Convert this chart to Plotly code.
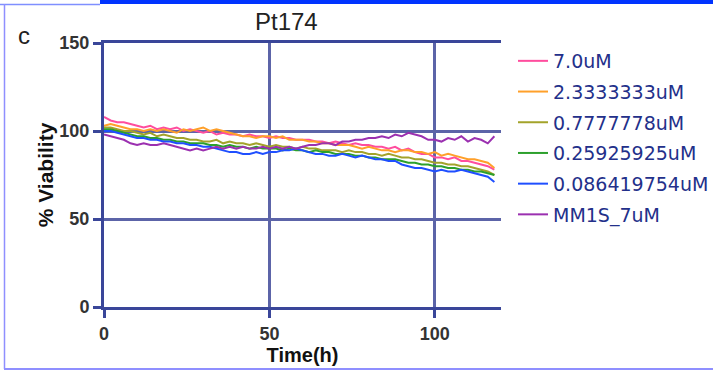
import plotly.graph_objects as go

time_h = list(range(0, 120, 2))

v_7_0 = [108,106,105,105,104,103,102,103,101,102,
         101,102,100,101,100,99,100,98,99,98,
         98,97,98,97,97,96,97,96,96,95,
         95,95,94,94,93,94,93,92,93,92,
         92,91,91,90,91,89,90,88,87,87,
         85,85,84,85,83,83,82,81,80,78]
v_2_33 = [103,104,103,102,101,101,100,101,100,101,
          100,99,101,100,101,102,100,101,100,99,
          98,97,97,96,97,97,96,97,95,95,
          95,94,94,93,93,92,92,92,91,90,
          91,90,89,89,88,89,89,88,88,87,
          88,86,87,86,85,84,84,83,82,79]
v_0_78 = [102,102,101,100,100,99,98,99,97,98,
          97,96,96,95,95,94,94,95,93,94,
          93,93,92,93,92,91,92,91,91,90,
          91,90,90,89,89,89,88,89,88,88,
          87,87,86,87,86,85,85,84,84,83,
          82,82,81,81,80,80,79,78,77,75]
v_0_26 = [101,101,100,99,98,97,97,96,96,95,
          95,94,94,93,93,93,92,92,91,92,
          91,91,90,91,90,90,90,89,90,89,
          89,88,89,88,88,87,87,87,86,86,
          85,85,84,84,84,83,82,82,81,81,
          80,80,79,79,78,78,77,77,76,75]
v_0_086 = [100,100,99,98,97,96,96,95,95,94,
           94,93,93,92,92,91,91,90,89,88,
           88,87,87,88,87,88,88,89,89,90,
           89,88,87,87,86,86,87,86,85,86,
           85,84,84,83,83,81,80,79,79,78,
           77,78,77,77,78,77,76,75,74,71]
v_mm1s = [98,97,96,95,93,92,93,92,92,93,
          92,91,90,89,90,89,90,91,90,91,
          90,91,90,90,91,90,91,90,91,90,
          91,92,92,93,93,92,94,94,95,95,
          96,96,97,96,98,97,99,98,97,95,
          95,94,96,95,97,94,96,95,93,97]

names = ["7.0uM", "2.3333333uM", "0.7777778uM", "0.25925925uM", "0.086419754uM", "MM1S_7uM"]
series = [v_7_0, v_2_33, v_0_78, v_0_26, v_0_086, v_mm1s]
colors = ["#ff4d9e", "#ffa02a", "#a3a32a", "#2ca02c", "#1f4fff", "#9b30b0"]

x_ticks = [0, 50, 100]
y_ticks = [0, 50, 100, 150]

fig = go.Figure()
for i, (n, s, c) in enumerate(zip(names, series, colors)):
    fig.add_trace(go.Scatter(x=time_h, y=s, mode="lines", name=n, legendgroup=n,
                             line=dict(color=c, width=2)))

W, H = 713, 371
L, R, T, B = 104, 212, 43, 64
pw, ph = W - L - R, H - T - B

def px(x):
    return (x - L) / pw

def py(y):
    return (H - B - y) / ph

grid = "#5c64a8"
fig.update_layout(
    width=W, height=H,
    margin=dict(l=L, r=R, t=T, b=B, autoexpand=False),
    paper_bgcolor="white", plot_bgcolor="white",
    showlegend=True,
    legend=dict(x=px(513), y=py(42), xanchor="left", yanchor="top",
                font=dict(family="DejaVu Sans", size=19, color="#23308a"),
                tracegroupgap=3, bgcolor="rgba(0,0,0,0)", itemwidth=30, maxheight=1),
    xaxis=dict(range=[0, 120], tickvals=x_ticks, showgrid=True, gridcolor=grid, gridwidth=2.5,
               zeroline=False, showline=True, linecolor="#3a4699", linewidth=3, mirror=True,
               ticks="outside", ticklen=8, tickwidth=2.5, tickcolor="#3a4699",
               tickfont=dict(family="Liberation Sans, Arial", size=18, color="#333333", weight="bold"),
               title=dict(text="<b>Time(h)</b>", standoff=0,
                          font=dict(family="Liberation Sans, Arial", size=20, color="#111111"))),
    yaxis=dict(range=[0, 150], tickvals=y_ticks, showgrid=True, gridcolor=grid, gridwidth=2.5,
               zeroline=False, showline=True, linecolor="#3a4699", linewidth=3,
               ticks="outside", ticklen=8, tickwidth=2.5, tickcolor="#3a4699",
               tickfont=dict(family="Liberation Sans, Arial", size=18, color="#333333", weight="bold"),
               title=dict(text="<b>% Viability</b>", standoff=1,
                          font=dict(family="Liberation Sans, Arial", size=21, color="#111111"))),
    annotations=[
        dict(text="Pt174", xref="paper", yref="paper", x=px(286), y=py(21),
             xanchor="center", yanchor="middle", showarrow=False,
             font=dict(family="Liberation Sans, Arial", size=24, color="#222222")),
        dict(text="c", xref="paper", yref="paper", x=px(16), y=py(36),
             xanchor="left", yanchor="middle", showarrow=False,
             font=dict(family="Liberation Sans, Arial", size=24, color="#222222")),
    ],
    shapes=[
        dict(type="rect", xref="paper", yref="paper", x0=px(100), x1=px(713), y0=py(4), y1=py(0),
             fillcolor="#0033ff", line=dict(width=0), layer="above"),
        dict(type="line", xref="paper", yref="paper", x0=px(0), x1=px(100), y0=py(4.5), y1=py(4.5),
             line=dict(color="#7f8fff", width=1.5)),
        dict(type="line", xref="paper", yref="paper", x0=px(4.5), x1=px(4.5), y0=py(4), y1=py(369),
             line=dict(color="#8f8fff", width=1.5)),
        dict(type="line", xref="paper", yref="paper", x0=px(4), x1=px(713), y0=py(369), y1=py(369),
             line=dict(color="#8f8fff", width=2)),
    ],
)

fig.write_html("out.html")
